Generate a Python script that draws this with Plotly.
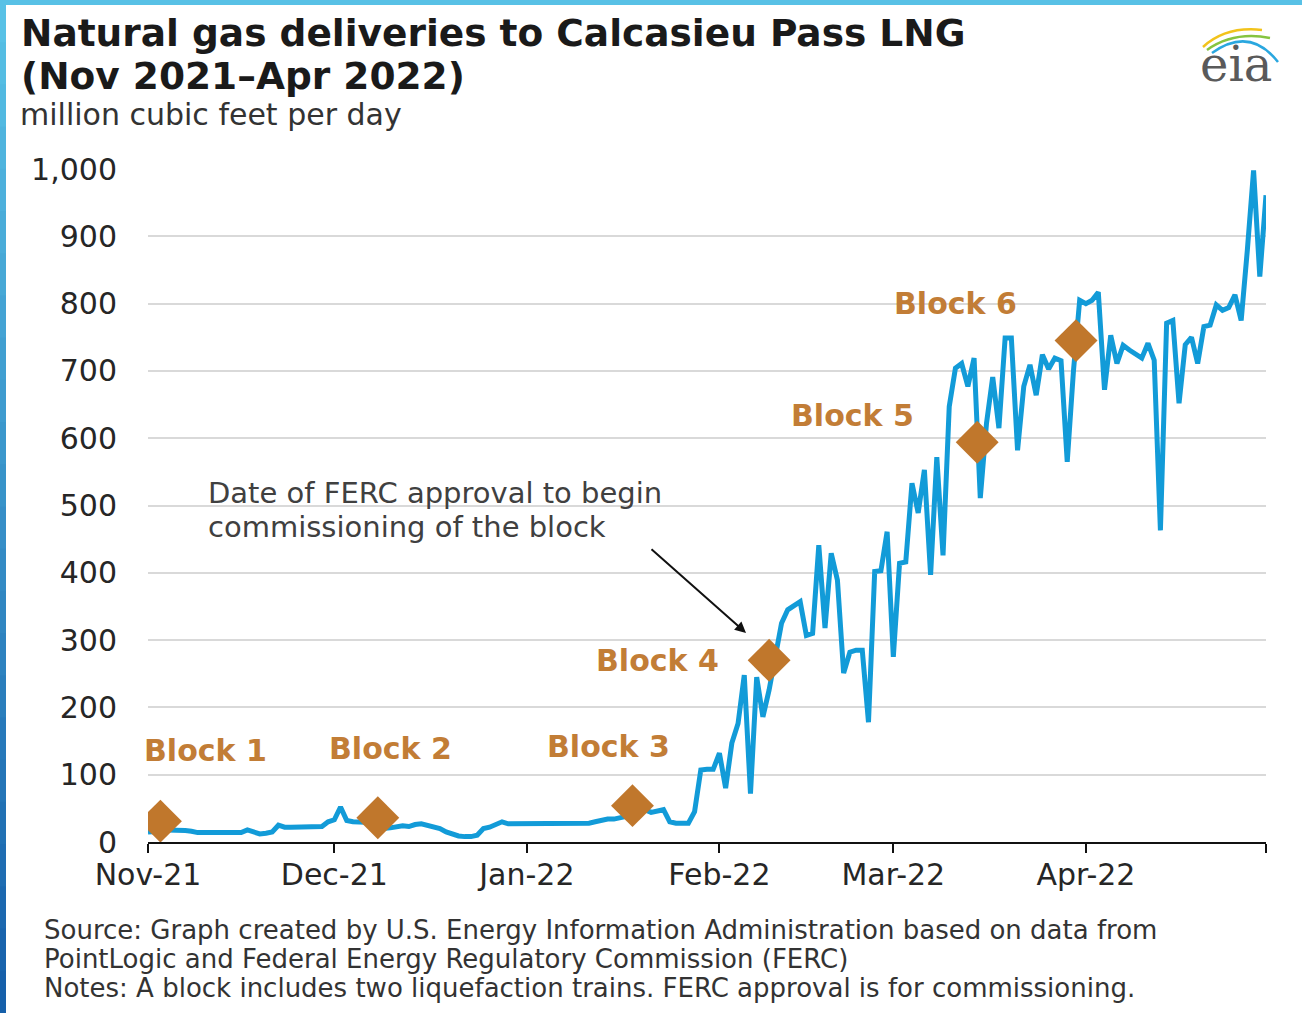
import plotly.graph_objects as go
import pandas as pd

# ---------------- data ----------------
nov_vals = [15, 15, 16, 18, 18, 18, 17, 16, 14, 14, 14, 14, 14, 14, 14, 14, 18, 14, 12, 13,
            15, 25, 22, 22, 22, 22, 22, 22, 23, 30]
dec_vals = [33, 52, 32, 30, 30, 30, 29, 26, 20, 21, 22, 24, 23, 26, 27, 25, 23, 20, 15, 12,
            9, 8, 8, 10, 20, 22, 26, 30, 27, 27, 27]
jan_vals = [27, 27, 27, 27, 27, 27, 27, 27, 27, 28, 28, 30, 32, 34, 34, 36, 38, 42, 46, 48,
            44, 46, 48, 30, 28, 28, 28, 45, 107, 108, 108]
feb_vals = [132, 80, 147, 176, 248, 72, 245, 186, 226, 275, 325, 345, 352, 357, 307, 310,
            441, 318, 429, 389, 251, 282, 285, 285, 178, 402, 403, 461]
mar_vals = [275, 414, 416, 533, 489, 553, 397, 572, 426, 647, 704, 711, 677, 719, 511, 622,
            691, 615, 749, 749, 582, 677, 709, 664, 724, 703, 719, 715, 565, 700, 805]
apr_vals = [800, 805, 817, 672, 753, 711, 738, 731, 725, 719, 741, 716, 463, 771, 775, 652,
            739, 750, 711, 766, 768, 798, 790, 794, 813, 775, 880, 998, 840, 961]

dates = pd.date_range("2021-11-01", "2022-04-30", freq="D")
values = nov_vals + dec_vals + jan_vals + feb_vals + mar_vals + apr_vals

month_ticks = ["2021-11-01", "2021-12-01", "2022-01-01", "2022-02-01",
               "2022-03-01", "2022-04-01", "2022-04-30"]
month_labels = ["Nov-21", "Dec-21", "Jan-22", "Feb-22", "Mar-22", "Apr-22", ""]

y_ticks = [0, 100, 200, 300, 400, 500, 600, 700, 800, 900, 1000]
y_tick_labels = ["0", "100", "200", "300", "400", "500", "600", "700", "800", "900", "1,000"]

block_names = ["Block 1", "Block 2", "Block 3", "Block 4", "Block 5", "Block 6"]
block_dates = ["2021-11-03", "2021-12-08", "2022-01-18", "2022-02-09",
               "2022-03-14 12:00", "2022-03-30 10:00"]
block_values = [31, 36, 54, 270, 594, 745]

title_lines = ["Natural gas deliveries to Calcasieu Pass LNG", "(Nov 2021\u2013Apr 2022)"]
unit_text = "million cubic feet per day"
callout_lines = ["Date of FERC approval to begin", "commissioning of the block"]
source_lines = [
    "Source: Graph created by U.S. Energy Information Administration based on data from",
    "PointLogic and Federal Energy Regulatory Commission (FERC)",
    "Notes: A block includes two liquefaction trains. FERC approval is for commissioning.",
]

# ---------------- layout geometry ----------------
W, H = 1302, 1013
ML, MR, MT, MB = 148, 36, 169, 171
PW, PH = W - ML - MR, H - MT - MB


def fx(x):
    return (x - ML) / PW


def fy(y):
    return (H - MB - y) / PH


FONT = "DejaVu Sans"
BLOCK_COLOR = "#C0772C"
LABEL_COLOR = "#C27D36"
LINE_COLOR = "#129BD8"

fig = go.Figure()
fig.add_trace(go.Scatter(x=dates, y=values, mode="lines",
                         line=dict(color=LINE_COLOR, width=5),
                         hoverinfo="skip"))
fig.add_trace(go.Scatter(x=block_dates, y=block_values, mode="markers",
                         marker=dict(symbol="diamond", size=33, color=BLOCK_COLOR,
                                     line=dict(width=0)),
                         hoverinfo="skip"))

annotations = []
# titles
annotations.append(dict(x=fx(19), y=fy(33), xref="paper", yref="paper", xanchor="left",
                        yanchor="middle", showarrow=False, text="<b>" + title_lines[0] + "</b>",
                        font=dict(family=FONT, size=37.5, color="#1a1a1a")))
annotations.append(dict(x=fx(19), y=fy(76), xref="paper", yref="paper", xanchor="left",
                        yanchor="middle", showarrow=False, text="<b>" + title_lines[1] + "</b>",
                        font=dict(family=FONT, size=37.5, color="#1a1a1a")))
annotations.append(dict(x=fx(18), y=fy(114), xref="paper", yref="paper", xanchor="left",
                        yanchor="middle", showarrow=False, text=unit_text,
                        font=dict(family=FONT, size=30, color="#333333")))
# eia logo text
annotations.append(dict(x=fx(1236), y=fy(64), xref="paper", yref="paper", xanchor="center",
                        yanchor="middle", showarrow=False, text="eia",
                        font=dict(family="DejaVu Serif", size=48, color="#5a5a5a")))
# source lines
for i, line in enumerate(source_lines):
    annotations.append(dict(x=fx(42), y=fy(930 + 29 * i), xref="paper", yref="paper",
                            xanchor="left", yanchor="middle", showarrow=False, text=line,
                            font=dict(family=FONT, size=26, color="#333333")))
# callout
for i, line in enumerate(callout_lines):
    annotations.append(dict(x=fx(206), y=fy(493 + 34 * i), xref="paper", yref="paper",
                            xanchor="left", yanchor="middle", showarrow=False, text=line,
                            font=dict(family=FONT, size=29, color="#404040")))
annotations.append(dict(x=fx(746), y=fy(633), xref="paper", yref="paper", text="",
                        showarrow=True, ax=-96, ay=-85, arrowhead=2, arrowsize=1.1,
                        arrowwidth=2, arrowcolor="#111111", standoff=0))
# block labels (pixel offsets from each diamond)
label_shifts = [(45, 71), (13, 69), (-24, 59), (-112, 0), (-125, 27), (-121, 37)]
for name, d, v, (sx, sy) in zip(block_names, block_dates, block_values, label_shifts):
    annotations.append(dict(x=d, y=v, xref="x", yref="y", xshift=sx, yshift=sy,
                            showarrow=False, text="<b>" + name + "</b>",
                            xanchor="center", yanchor="middle",
                            font=dict(family=FONT, size=30, color=LABEL_COLOR)))

shapes = []
# white patches that interrupt gridlines behind text
shapes.append(dict(type="rect", xref="paper", yref="paper", x0=fx(198), x1=fx(726),
                   y0=fy(545), y1=fy(476), fillcolor="white", line=dict(width=0),
                   layer="between"))
shapes.append(dict(type="rect", xref="paper", yref="paper", x0=fx(862), x1=fx(1048),
                   y0=fy(316), y1=fy(292), fillcolor="white", line=dict(width=0),
                   layer="between"))


# eia swooshes
def qpath(p0, c, p1):
    return "M {} {} Q {} {} {} {}".format(fx(p0[0]), fy(p0[1]), fx(c[0]), fy(c[1]),
                                          fx(p1[0]), fy(p1[1]))


for (p0, c, p1, col) in [((1203, 47), (1226, 26), (1262, 30), "#F2C31B"),
                         ((1207, 50), (1234, 31), (1270, 38), "#86C440"),
                         ((1212, 53), (1250, 26), (1278, 62), "#2AA7DF")]:
    shapes.append(dict(type="path", xref="paper", yref="paper", path=qpath(p0, c, p1),
                       line=dict(color=col, width=2.5), layer="above"))

# frame: top cyan band and left gradient band
shapes.append(dict(type="rect", xref="paper", yref="paper", x0=fx(0), x1=fx(W),
                   y0=fy(5), y1=fy(0), fillcolor="#58C1E6", line=dict(width=0), layer="above"))
n_seg = 24
c_top = (88, 193, 230)
c_bot = (22, 96, 170)
for i in range(n_seg):
    t = i / (n_seg - 1)
    col = "rgb({},{},{})".format(*[round(a + (b - a) * t) for a, b in zip(c_top, c_bot)])
    y0 = H * i / n_seg
    y1 = H * (i + 1) / n_seg + 1
    shapes.append(dict(type="rect", xref="paper", yref="paper", x0=fx(0), x1=fx(6),
                       y0=fy(y1), y1=fy(y0), fillcolor=col, line=dict(width=0), layer="above"))

fig.update_layout(
    width=W, height=H, autosize=False,
    margin=dict(l=ML, r=MR, t=MT, b=MB, pad=0),
    paper_bgcolor="white", plot_bgcolor="white",
    showlegend=False, hovermode=False,
    annotations=annotations, shapes=shapes,
    xaxis=dict(type="date", range=["2021-11-01", "2022-04-30"],
               tickvals=month_ticks, ticktext=month_labels,
               ticks="outside", ticklen=9, tickwidth=2, tickcolor="#111111",
               showline=True, linecolor="#111111", linewidth=2,
               showgrid=False, zeroline=False, ticklabelstandoff=-4,
               tickfont=dict(family=FONT, size=30, color="#262626")),
    yaxis=dict(range=[0, 1000], tickvals=y_ticks, ticktext=y_tick_labels,
               showgrid=True, gridcolor="#d9d9d9", gridwidth=1.5,
               zeroline=False, showline=False, ticks="",
               ticklabelstandoff=30,
               tickfont=dict(family=FONT, size=30, color="#262626")),
)

fig.write_html("out.html", config={"displayModeBar": False},
               post_script="document.body.style.margin='0';")
